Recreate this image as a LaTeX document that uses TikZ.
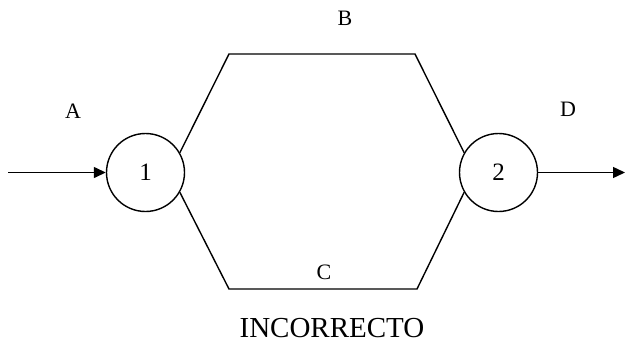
\documentclass[tikz,border=0pt]{standalone}
\usepackage{fontspec}
\setmainfont{Liberation Serif}
\usetikzlibrary{arrows.meta}

\begin{document}
\begin{tikzpicture}[
    x=1pt, y=-1pt,
    line width=1.4pt,
    >={Triangle[length=12pt,width=11pt]},
    station/.style={circle, draw, minimum size=78pt, inner sep=0pt, font=\fontsize{25}{25}\selectfont},
    flowlabel/.style={font=\fontsize{22}{22}\selectfont}
  ]
  \useasboundingbox (0,0) rectangle (627,348);

  %% --- Stations ---
  \node[station] (n1) at (145.5,172.5) {1};
  \node[station] (n2) at (498.5,172.5) {2};

  %% --- Path corners and free ends ---
  \coordinate (ul) at (229,54);
  \coordinate (ur) at (415,54);
  \coordinate (ll) at (229,289);
  \coordinate (lr) at (417,289);
  \coordinate (in) at (8,172.5);
  \coordinate (out) at (625,172.5);

  %% --- Connections ---
  \draw[->] (in) -- (n1.west);
  \draw (n1.30) -- (ul) -- (ur) -- (n2.150);
  \draw (n1.-30) -- (ll) -- (lr) -- (n2.-150);
  \draw[->] (n2.east) -- (out);

  %% --- Labels ---
  \node[flowlabel] (la) at (73,111) {A};
  \node[flowlabel] (lb) at (345,18) {B};
  \node[flowlabel] (lc) at (324,272) {C};
  \node[flowlabel] (ld) at (568,109) {D};
  \node[font=\fontsize{29}{29}\selectfont] (title) at (332,328) {INCORRECTO};
\end{tikzpicture}
\end{document}
